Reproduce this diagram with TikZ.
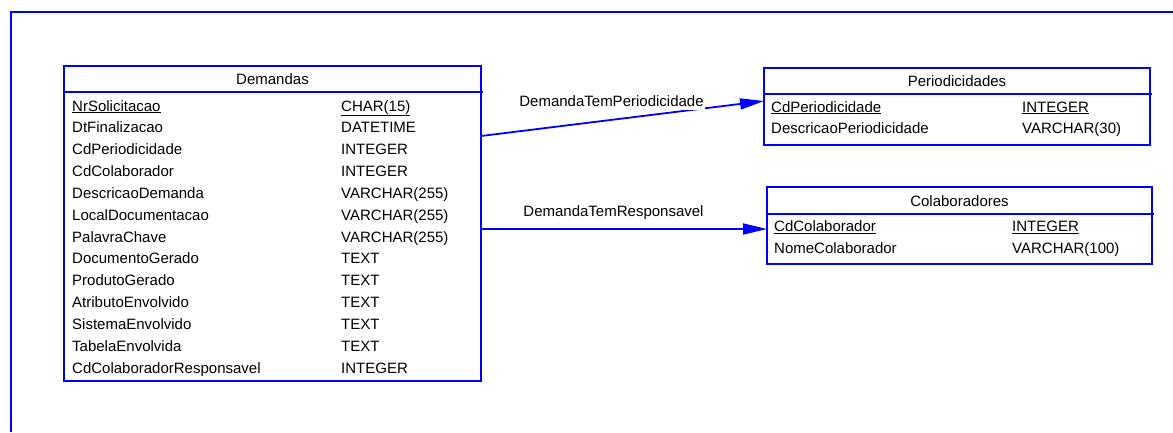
\documentclass[tikz,border=0pt]{standalone}
\usepackage{fontspec}
\setmainfont{Liberation Sans}
\usetikzlibrary{arrows.meta,calc}
\definecolor{erblue}{RGB}{0,0,255}

\begin{document}
\begin{tikzpicture}[x=1pt,y=-1pt,
  every node/.style={font=\fontsize{15}{18}\selectfont,text=black},
  tbl/.style={draw=erblue,line width=1.8pt,inner sep=0pt,outer sep=0pt},
  tblline/.style={draw=erblue,line width=1.8pt},
  field/.style={anchor=base west,inner sep=0pt},
  hdr/.style={anchor=base,inner sep=0pt},
  rel/.style={draw=erblue,line width=1.8pt,-{Triangle[length=24pt,width=11pt]}},
  rellabel/.style={anchor=base,fill=white,inner sep=1pt,text depth=3pt}]

\useasboundingbox (0,0) rectangle (1173,432);

% page frame
\draw[tblline] (11,432) -- (11,12) -- (1173,12);

% ---- Demandas ----
\node[tbl,minimum width=417pt,minimum height=315pt] (dem) at (272.5,223.5) {};
\draw[tblline] ($(dem.north west)+(0,26)$) -- ($(dem.north east)+(2,26)$);
\node[hdr] (demh) at (272.5,84.7) {Demandas};
\foreach [count=\i] \n/\t in {
  {\underline{NrSolicitacao}}/{\underline{CHAR(15)}},
  {DtFinalizacao}/{DATETIME},
  {CdPeriodicidade}/{INTEGER},
  {CdColaborador}/{INTEGER},
  {DescricaoDemanda}/{VARCHAR(255)},
  {LocalDocumentacao}/{VARCHAR(255)},
  {PalavraChave}/{VARCHAR(255)},
  {DocumentoGerado}/{TEXT},
  {ProdutoGerado}/{TEXT},
  {AtributoEnvolvido}/{TEXT},
  {SistemaEnvolvido}/{TEXT},
  {TabelaEnvolvida}/{TEXT},
  {CdColaboradorResponsavel}/{INTEGER}}
{
  \node[field] (dn\i) at (72,{111+21.85*(\i-1)}) {\n};
  \node[field] (dt\i) at (341,{111+21.85*(\i-1)}) {\t};
}

% ---- Periodicidades ----
\node[tbl,minimum width=386pt,minimum height=77pt] (per) at (957,106.5) {};
\draw[tblline] ($(per.north west)+(0,26)$) -- ($(per.north east)+(2,26)$);
\node[hdr] (perh) at (957,86.7) {Periodicidades};
\node[field] (pn1) at (771,112) {\underline{CdPeriodicidade}};
\node[field] (pt1) at (1022,112) {\underline{INTEGER}};
\node[field] (pn2) at (771,133.3) {DescricaoPeriodicidade};
\node[field] (pt2) at (1022,133.3) {VARCHAR(30)};

% ---- Colaboradores ----
\node[tbl,minimum width=385pt,minimum height=77pt] (col) at (959.5,225.5) {};
\draw[tblline] ($(col.north west)+(0,27)$) -- ($(col.north east)+(2,27)$);
\node[hdr] (colh) at (959.5,206.7) {Colaboradores};
\node[field] (cn1) at (774,231.7) {\underline{CdColaborador}};
\node[field] (ct1) at (1012,231.7) {\underline{INTEGER}};
\node[field] (cn2) at (774,253.3) {NomeColaborador};
\node[field] (ct2) at (1012,253.3) {VARCHAR(100)};

% ---- relationships ----
\coordinate (r1s) at ($(dem.north east)+(0,70)$);
\coordinate (r1e) at ($(per.north west)+(0,33)$);
\draw[rel] (r1s) -- (r1e);
\node[rellabel] (r1l) at (611.5,106) {DemandaTemPeriodicidade};

\coordinate (r2s) at ($(dem.north east)+(0,163)$);
\draw[rel] (r2s) -- (col.west |- r2s);
\node[rellabel] (r2l) at (613.5,216.7) {DemandaTemResponsavel};
\end{tikzpicture}
\end{document}
